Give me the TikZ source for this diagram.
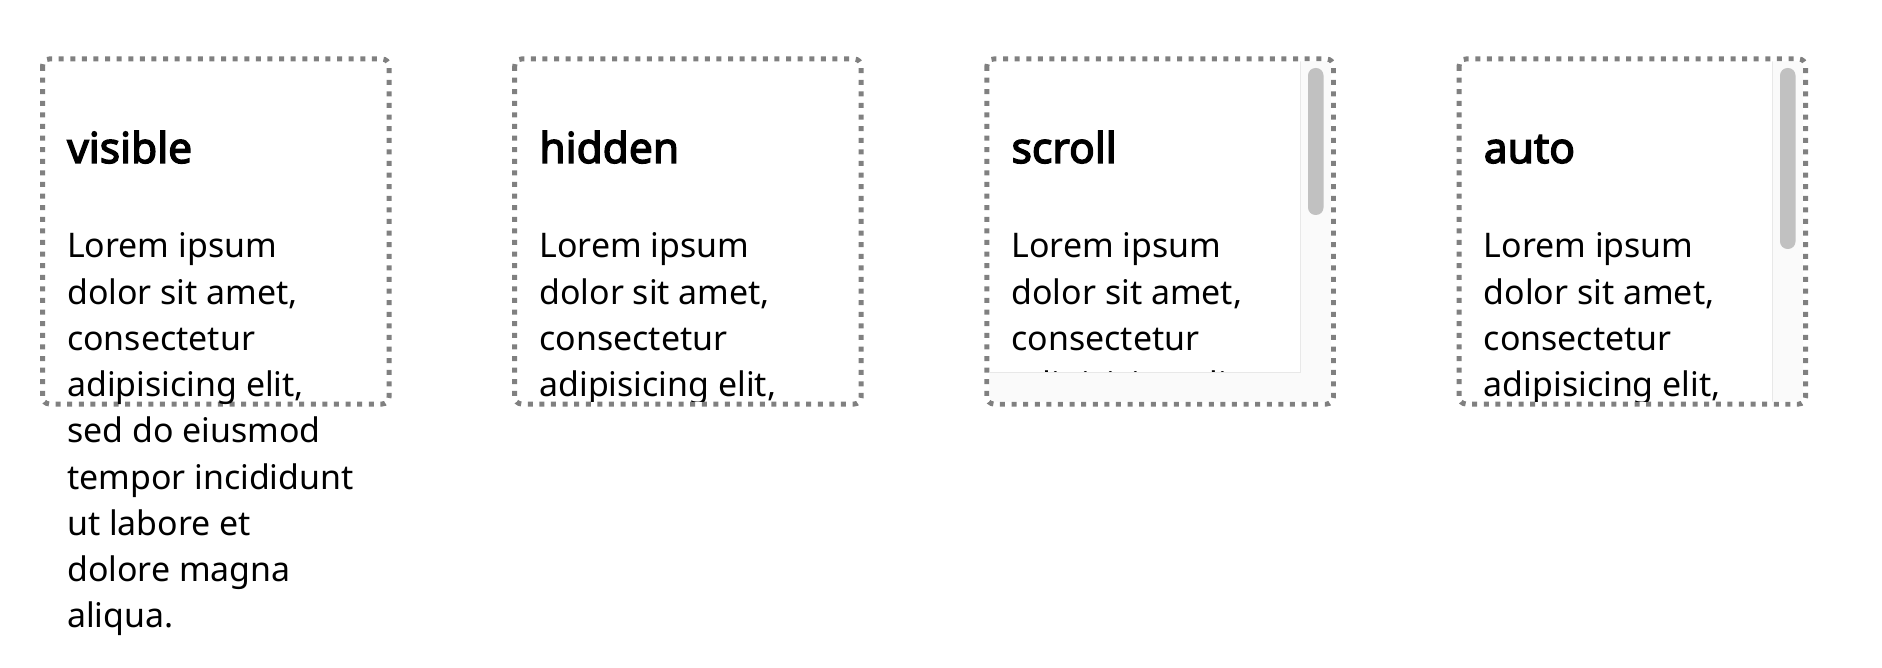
\documentclass[tikz,border=0pt]{standalone}
\usepackage{fontspec}
\setmainfont{Noto Sans}[AutoFakeBold=3.2]
\definecolor{bordergray}{HTML}{808080}
\definecolor{trackbg}{HTML}{FAFAFA}
\definecolor{trackline}{HTML}{E8E8E8}
\definecolor{thumbgray}{HTML}{C1C1C1}
\newcommand\loremblock[3]{%
  \node[titletext] (#2t) at ({#1+24.5},163) {#3};
  \foreach \s [count=\i from 0] in {Lorem ipsum,{dolor sit amet,},consectetur,{adipisicing elit,},sed do eiusmod,tempor incididunt,ut labore et,dolore magna,aliqua.}
    \node[bodytext] (#2l\i) at ({#1+24.5},{258+46.2*\i}) {\s};
}
\begin{document}
\begin{tikzpicture}[x=1pt,y=-1pt,
  boxborder/.style={draw=bordergray, line width=5pt, dash pattern=on 5pt off 6.6pt, rounded corners=7pt},
  titletext/.style={anchor=base west, inner sep=0pt, font=\fontsize{42.5}{50}\selectfont\bfseries},
  bodytext/.style={anchor=base west, inner sep=0pt, font=\fontsize{33.9}{46}\selectfont},
  track/.style={fill=trackbg},
  trackedge/.style={draw=trackline, line width=1.2pt},
  thumbbar/.style={fill=thumbgray, rounded corners=7.5pt}]
\fill[white] (0,0) rectangle (1882,668);
\useasboundingbox (0,0) rectangle (1882,668);
% box 1: visible
\draw[boxborder] (42.5,59) rectangle (389,404);
\loremblock{42.5}{a}{visible}
% box 2: hidden
\draw[boxborder] (514.7,59) rectangle (861.2,404);
\begin{scope}
  \clip[rounded corners=5pt] (517.2,61.5) rectangle (858.7,401.5);
  \loremblock{514.7}{b}{hidden}
\end{scope}
% box 3: scroll
\draw[boxborder] (986.9,59) rectangle (1333.4,404);
\begin{scope}
  \clip (989.4,61.5) rectangle (1300.7,372.7);
  \loremblock{986.9}{c}{scroll}
\end{scope}
\begin{scope}
  \clip[rounded corners=5pt] (989.4,61.5) rectangle (1330.9,401.5);
  \fill[track] (1300.7,61.5) rectangle (1330.9,401.5);
  \fill[track] (989.4,372.7) rectangle (1300.7,401.5);
  \draw[trackedge] (1300.7,61.5) -- (1300.7,372.7) -- (989.4,372.7);
\end{scope}
\fill[thumbbar] (1308,68) rectangle (1323.5,215);
% box 4: auto
\draw[boxborder] (1459.1,59) rectangle (1805.6,404);
\begin{scope}
  \clip[rounded corners=5pt] (1461.6,61.5) rectangle (1803.1,401.5);
  \begin{scope}
    \clip (1461.6,61.5) rectangle (1772.7,401.5);
    \loremblock{1459.1}{d}{auto}
  \end{scope}
  \fill[track] (1772.7,61.5) rectangle (1803.1,401.5);
  \draw[trackedge] (1772.7,61.5) -- (1772.7,401.5);
\end{scope}
\fill[thumbbar] (1780,68) rectangle (1795.5,249);
\end{tikzpicture}
\end{document}
